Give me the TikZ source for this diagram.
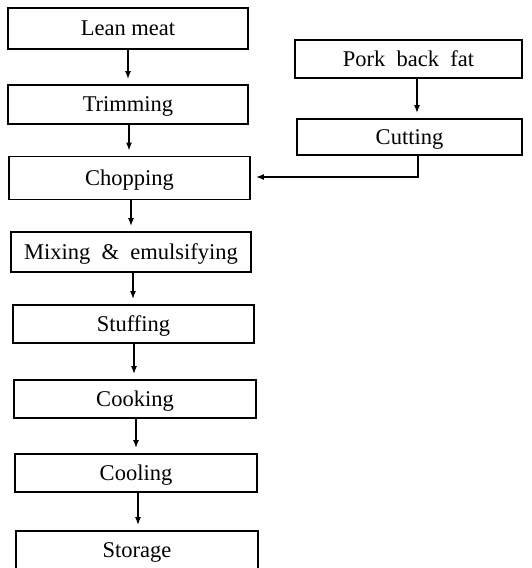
\documentclass[tikz,border=0pt]{standalone}
\usepackage{fontspec}
\setmainfont{Liberation Serif}
\usetikzlibrary{arrows.meta}
\begin{document}
\begin{tikzpicture}[x=1pt,y=-1pt,
  box/.style={draw,line width=1.8pt,inner sep=0pt,font=\fontsize{22.5}{24}\selectfont,text depth=0pt},
  flow/.style={line width=1.3pt,-{Latex[length=8pt,width=6pt]},shorten >=5pt}]
\useasboundingbox (0,0) rectangle (532,568);
\node[box,minimum width=240pt,minimum height=41pt] (lean) at (128,28.5) {Lean meat};
\node[box,minimum width=240pt,minimum height=39pt] (trim) at (128,104.5) {Trimming};
\node[box,minimum width=241pt,minimum height=43pt] (chop) at (129.5,178) {Chopping};
\node[box,minimum width=240pt,minimum height=40pt] (mix) at (131,252) {Mixing \ \& \ emulsifying};
\node[box,minimum width=241pt,minimum height=38pt] (stuff) at (133.5,324) {Stuffing};
\node[box,minimum width=242pt,minimum height=38pt] (cook) at (135,399) {Cooking};
\node[box,minimum width=242pt,minimum height=38pt] (cool) at (136,473) {Cooling};
\node[box,minimum width=242pt,minimum height=38pt] (store) at (137,550) {Storage};
\node[box,minimum width=227pt,minimum height=38pt] (pork) at (408.5,59) {Pork \ back \ fat};
\node[box,minimum width=225pt,minimum height=36pt] (cut) at (409.5,137) {Cutting};
\coordinate (bend) at (418,177);
\draw[flow] (lean.south -| 128,0) -- (trim.north -| 128,0);
\draw[flow] (trim.south -| 129,0) -- (chop.north -| 129,0);
\draw[flow] (chop.south -| 131,0) -- (mix.north -| 131,0);
\draw[flow] (mix.south -| 133,0) -- (stuff.north -| 133,0);
\draw[flow] (stuff.south -| 134,0) -- (cook.north -| 134,0);
\draw[flow] (cook.south -| 136,0) -- (cool.north -| 136,0);
\draw[flow] (cool.south -| 138,0) -- (store.north -| 138,0);
\draw[flow] (pork.south -| 417,0) -- (cut.north -| 417,0);
\draw[flow] (cut.south -| bend) -- (bend) -- (chop.east |- bend);
\end{tikzpicture}
\end{document}
